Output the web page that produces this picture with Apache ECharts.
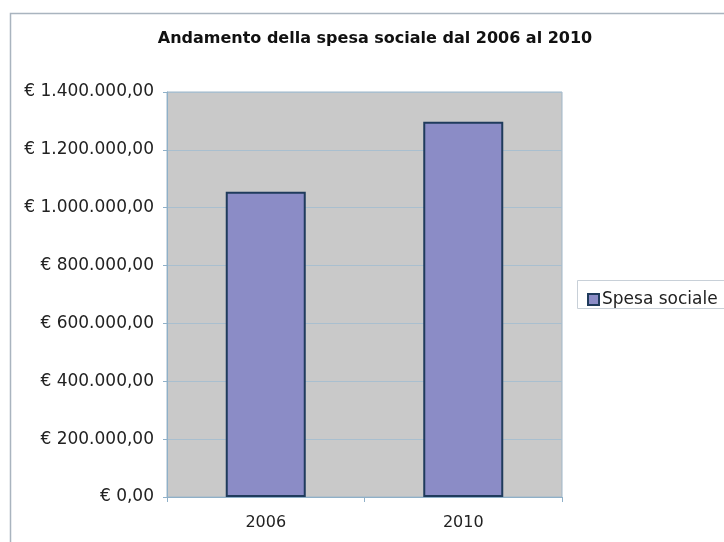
<!DOCTYPE html>
<html><head><meta charset="utf-8">
<script src="https://cdn.jsdelivr.net/npm/echarts@6/dist/echarts.min.js"></script>
<style>html,body{margin:0;padding:0;background:#fff}#c{width:724px;height:542px}</style>
</head><body><div id="c"></div>
<script>
const categories = ['2006', '2010'];
const spesaSociale = [1055000, 1297000];
const yTicks = [0, 200000, 400000, 600000, 800000, 1000000, 1200000, 1400000];

function fmtEuro(v) {
  const s = Math.round(v).toString().replace(/\B(?=(\d{3})+(?!\d))/g, '.');
  return '€ ' + s + ',00';
}

const FONT = 'DejaVu Sans';
const chart = echarts.init(document.getElementById('c'));
chart.setOption({
  backgroundColor: '#fff',
  animation: false,
  title: {
    text: 'Andamento della spesa sociale dal 2006 al 2010',
    left: 370, top: 26, textAlign: 'center',
    textStyle: { fontFamily: FONT, fontSize: 16, fontWeight: 'bold', color: '#111' }
  },
  graphic: [
    { type: 'rect', shape: { x: 10.5, y: 13.5, width: 720, height: 540 }, style: { fill: 'none', stroke: '#a9b4bf', lineWidth: 1.5 }, z: -10 },
    { type: 'rect', shape: { x: 577.5, y: 280.5, width: 150, height: 28 }, style: { fill: 'none', stroke: '#c8d0d8', lineWidth: 1 }, z: -5 }
  ],
  legend: {
    data: ['Spesa sociale'],
    left: 582, top: 286, icon: 'rect', itemWidth: 11, itemHeight: 11, itemGap: 4,
    textStyle: { fontFamily: FONT, fontSize: 17, color: '#222', padding: [0, 0, 0, -2] }
  },
  grid: { left: 167, right: 162, top: 92, bottom: 45, containLabel: false, show: true, backgroundColor: '#c9c9c9', borderColor: '#9fb6c8', borderWidth: 1 },
  xAxis: {
    type: 'category', data: categories,
    axisLine: { lineStyle: { color: '#8fb0c8' } },
    axisTick: { show: true, alignWithLabel: false, lineStyle: { color: '#8fb0c8' } },
    axisLabel: { fontFamily: FONT, fontSize: 16, color: '#222', margin: 18 }
  },
  yAxis: {
    type: 'value', min: 0, max: 1400000, interval: 200000,
    axisLine: { show: true, lineStyle: { color: '#8fb0c8' } },
    axisTick: { show: true, length: 4, lineStyle: { color: '#8fb0c8' } },
    splitLine: { lineStyle: { color: '#a9bfcf', width: 1 } },
    axisLabel: { fontFamily: FONT, fontSize: 17, color: '#222', margin: 13,
      formatter: v => yTicks.includes(v) ? fmtEuro(v) : '' }
  },
  series: [{
    name: 'Spesa sociale', type: 'bar', data: spesaSociale,
    barWidth: 80,
    itemStyle: { color: '#8b8cc6', borderColor: '#1f3b5c', borderWidth: 2 }
  }]
});
</script></body></html>
